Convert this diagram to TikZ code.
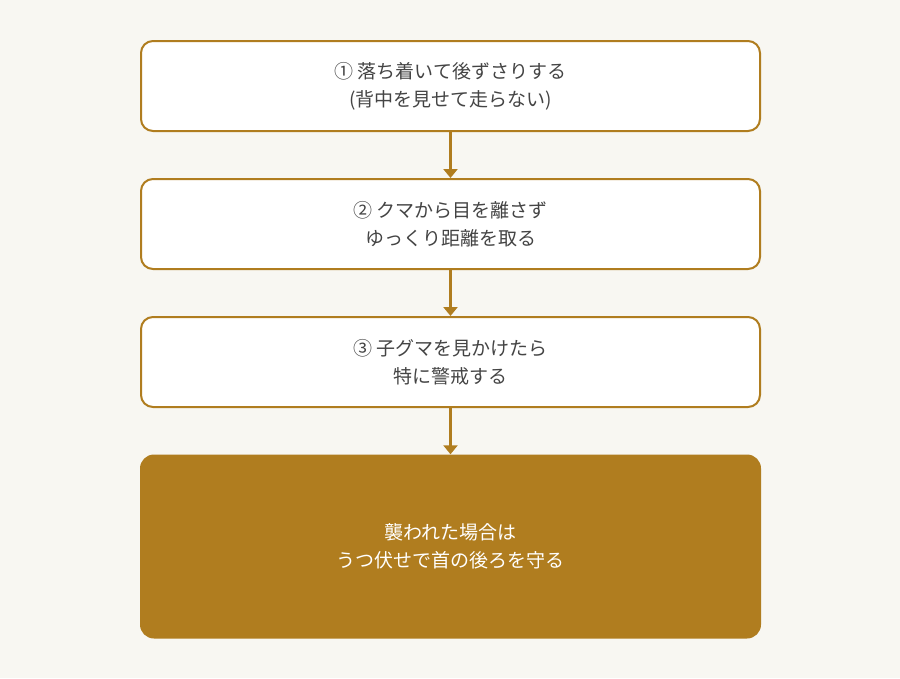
\documentclass[tikz,border=0pt]{standalone}
\usepackage{fontspec}
\setmainfont{Noto Sans CJK JP}
\usetikzlibrary{arrows.meta}
\definecolor{bg}{HTML}{F8F7F2}
\definecolor{gold}{HTML}{B07D1F}
\definecolor{txt}{HTML}{444444}
\begin{document}
\begin{tikzpicture}[x=1pt,y=-1pt,
  box/.style={draw=gold,line width=2pt,rounded corners=12pt,fill=white,minimum width=619pt,minimum height=90pt,align=center,text=txt,font=\fontsize{19}{28}\selectfont},
  fin/.style={fill=gold,rounded corners=14pt,minimum width=621pt,minimum height=184pt,align=center,text=white,font=\fontsize{19}{28}\selectfont},
  arr/.style={draw=gold,line width=3pt,-{Triangle[length=9pt,width=14pt]}}]
\fill[bg] (0,0) rectangle (900,678);
\node[box] (a) at (450.5,86) {① 落ち着いて後ずさりする\\(背中を見せて走らない)};
\node[box] (b) at (450.5,224) {② クマから目を離さず\\ゆっくり距離を取る};
\node[box] (c) at (450.5,362) {③ 子グマを見かけたら\\特に警戒する};
\node[fin] (d) at (450.5,546.5) {襲われた場合は\\うつ伏せで首の後ろを守る};
\draw[arr] (a) -- (b);
\draw[arr] (b) -- (c);
\draw[arr] (c) -- (d);
\end{tikzpicture}
\end{document}
